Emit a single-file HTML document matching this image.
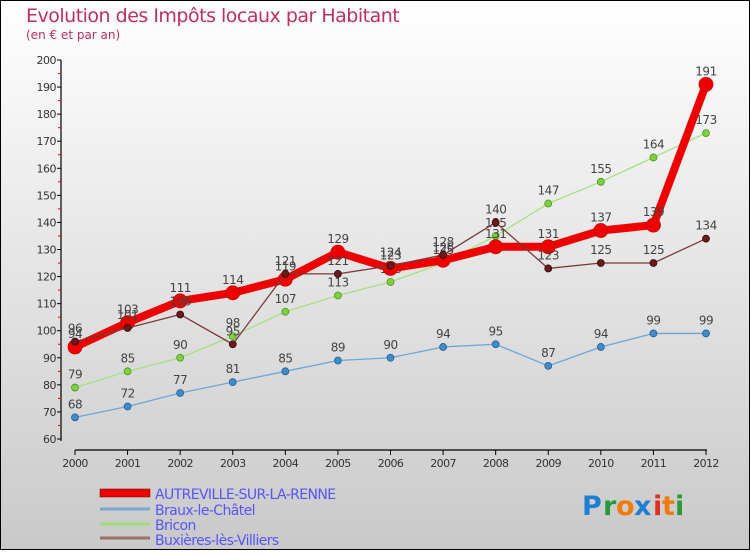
<!DOCTYPE html>
<html><head><meta charset="utf-8"><style>
body{margin:0;width:750px;height:550px;overflow:hidden;font-family:"DejaVu Sans","Liberation Sans",sans-serif}
svg text{font-family:"DejaVu Sans","Liberation Sans",sans-serif}
</style></head><body>
<svg id="c" width="750" height="550" xmlns="http://www.w3.org/2000/svg">
<defs><linearGradient id="bg" x1="0" y1="0" x2="0" y2="1"><stop offset="0" stop-color="#ffffff"/><stop offset="1" stop-color="#c9c9c9"/></linearGradient></defs>
<rect x="0.5" y="0.5" width="749" height="549" fill="url(#bg)" stroke="#000"/>
<text x="26" y="22" font-size="19" fill="#c0305e" style="letter-spacing:-0.5px">Evolution des Impôts locaux par Habitant</text>
<text x="26" y="39" font-size="12" fill="#c0305e">(en € et par an)</text>
<g id="axes"></g><g id="series"></g>
<g>
<rect x="100" y="489" width="50" height="8" fill="#e00" stroke="#600" stroke-width="0.5"/>
<text x="155" y="499" font-size="14" fill="#55f" style="letter-spacing:-0.6px">AUTREVILLE-SUR-LA-RENNE</text>
<rect x="100" y="553" width="0" height="0"/>
<line x1="100" y1="509" x2="150" y2="509" stroke="#7aa8d0" stroke-width="3"/>
<text x="155" y="515" font-size="14" fill="#55f" style="letter-spacing:-0.6px">Braux-le-Châtel</text>
<line x1="100" y1="524" x2="150" y2="524" stroke="#9fdc7a" stroke-width="3"/>
<text x="155" y="530" font-size="14" fill="#55f" style="letter-spacing:-0.6px">Bricon</text>
<line x1="100" y1="538" x2="150" y2="538" stroke="#9a706a" stroke-width="3"/>
<text x="155" y="545" font-size="14" fill="#55f" style="letter-spacing:-0.6px">Buxières-lès-Villiers</text>
</g>
<g font-size="27" font-weight="bold">
<text x="582" y="515" fill="#1e7fd0">P</text><text x="603" y="515" fill="#2a9a3a">r</text><text x="616" y="515" fill="#f07a10">o</text><text x="634" y="515" fill="#1e7fd0">x</text><text x="653" y="515" fill="#e03020">i</text><text x="662" y="515" fill="#f07a10">t</text><text x="675" y="515" fill="#2a9a3a">i</text>
</g>
</svg>
<script>
const years=["2000","2001","2002","2003","2004","2005","2006","2007","2008","2009","2010","2011","2012"];
const yTicks=[60,70,80,90,100,110,120,130,140,150,160,170,180,190,200];
const autreville=[94,103,111,114,119,129,123,126,131,131,137,139,191];
const braux=[68,72,77,81,85,89,90,94,95,87,94,99,99];
const bricon=[79,85,90,98,107,113,118,125,135,147,155,164,173];
const buxieres=[96,101,106,95,121,121,124,128,140,123,125,125,134];
const NS="http://www.w3.org/2000/svg";
const X=i=>75+i*(706-75)/(years.length-1);
const Y=v=>439-(v-60)*(439-60)/140;
function mk(t,a,p){const e=document.createElementNS(NS,t);for(const k in a)e.setAttribute(k,a[k]);(p||document.getElementById('series')).appendChild(e);return e;}
const ax=document.getElementById('axes');
let e=mk('line',{x1:61,y1:Y(200),x2:61,y2:Y(60)+2,stroke:'#000','stroke-width':1.2},ax);

yTicks.forEach(v=>{mk('line',{x1:57,y1:Y(v),x2:61,y2:Y(v),stroke:'#000'},ax);
 if(v<200)mk('line',{x1:58,y1:Y(v+5),x2:61,y2:Y(v+5),stroke:'#e00'},ax);
 const t=mk('text',{x:56,y:Y(v)+4,'font-size':11,fill:'#333','text-anchor':'end','letter-spacing':'-0.5'},ax);t.textContent=v;
 });
e=mk('line',{x1:75,y1:450,x2:707,y2:450,stroke:'#000','stroke-width':1.2},ax);

years.forEach((y,i)=>{mk('line',{x1:X(i),y1:450,x2:X(i),y2:455,stroke:'#000'},ax);
 const t=mk('text',{x:X(i),y:467,'font-size':11,fill:'#333','text-anchor':'middle','letter-spacing':'-0.6'},ax);t.textContent=y;
 });
function series(d,name,col,lw,r,dot,dotStroke){
 const p=mk('polyline',{points:d.map((v,i)=>X(i)+','+Y(v)).join(' '),fill:'none',stroke:col,'stroke-width':lw,'stroke-linejoin':'round'});
 
 d.forEach((v,i)=>{const c=mk('circle',{cx:X(i),cy:Y(v),r:r,fill:dot,stroke:dotStroke,'stroke-width':0.8});
  
  const t=mk('text',{x:X(i),y:Y(v)-9,'font-size':12,fill:'#444','text-anchor':'middle','letter-spacing':'-0.5'});t.textContent=v;
  });
}
series(braux,'braux','#6fa6d6',1.3,3.5,'#3d8ccc','#2a5f8f');
series(bricon,'bricon','#a8e080',1.3,3.5,'#7ed040','#4a9a20');
series(autreville,'autreville','#ee0000',8,7,'#ee0000','#cc0000');
series(buxieres,'buxieres','#7a3a3a',1.3,3.5,'#6a1a1a','#3a0a0a');
</script>
</body></html>
